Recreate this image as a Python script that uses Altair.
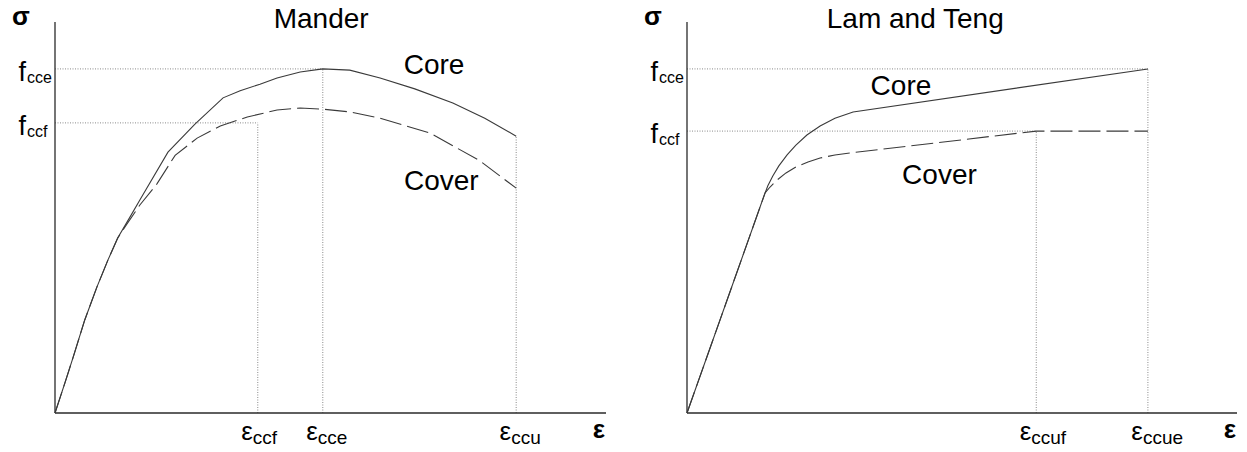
import altair as alt
import pandas as pd

FONT = "Liberation Sans"

# ---------------- Mander model (left panel) ----------------
mander_core_eps = [0, 1.8, 3.3, 5.4, 7.6, 9.6, 11.4, 13.6, 15.4, 20.5, 25.4, 30.5,
                   33.6, 37.2, 40.3, 44.5, 48.6, 53.5, 59.0, 65.3, 72.2, 78.0, 83.7]
mander_core_sig = [0, 7.7, 14.3, 23.8, 32.2, 39.1, 44.8, 50.1, 54.5, 66.7, 73.9, 80.6,
                   82.4, 84.1, 85.7, 87.2, 88.0, 87.7, 85.7, 82.9, 79.3, 75.4, 70.8]

mander_cover_eps = [0, 1.8, 3.3, 5.4, 7.6, 9.6, 11.4, 12.7, 15.4, 18.5, 21.8, 25.8,
                    30.0, 34.9, 40.3, 44.5, 48.6, 53.5, 59.0, 68.1, 77.1, 83.7]
mander_cover_sig = [0, 7.7, 14.3, 23.8, 32.2, 39.1, 44.8, 47.6, 53.2, 58.6, 65.9, 70.3,
                    73.4, 75.7, 77.5, 78.0, 77.7, 77.0, 75.4, 71.6, 64.5, 57.5]

mander_fcce = 88.0
mander_fccf = 74.2
mander_eccf = 36.8
mander_ecce = 48.6
mander_eccu = 83.7

# ---------------- Lam and Teng model (right panel) ----------------
lt_core_eps = [0, 14.2, 14.7, 15.6, 16.7, 18.2, 19.8, 21.8, 24.2, 26.9, 30.2, 83.8]
lt_core_sig = [0, 56.3, 58.1, 60.6, 63.2, 66.0, 68.5, 71.1, 73.4, 75.4, 77.0, 88.0]

lt_cover_eps = [0, 14.2, 15.1, 16.4, 18.0, 19.8, 22.0, 24.2, 26.9, 29.6, 63.5, 83.8]
lt_cover_sig = [0, 56.3, 57.8, 59.6, 61.4, 62.9, 64.2, 65.2, 66.0, 66.5, 72.1, 72.1]

lt_fcce = 88.0
lt_fccf = 72.1
lt_eccuf = 63.5
lt_eccue = 83.8

# ---------------- layout (pixels) ----------------
H = 452
BASE = 413          # y pixel of the strain axis
Y_UNIT = 3.91       # pixels per stress unit
LEFT_W, RIGHT_W = 630, 617
LEFT_ORIGIN, LEFT_UNIT = 55, 5.51
RIGHT_ORIGIN, RIGHT_UNIT = 57, 5.50   # origin measured inside the right panel

y_domain = [-(H - BASE) / Y_UNIT, BASE / Y_UNIT]

CURVE = "#3a3a3a"
GUIDE = "#8a8a8a"
AXIS = "#2a2a2a"


def point(x, y):
    return pd.DataFrame({"x": [x], "y": [y]})


def panel(width, origin, unit, title, title_x, core, cover, fvals, evals,
          core_lbl, cover_lbl):
    x_scale = alt.Scale(domain=[-origin / unit, (width - origin) / unit], nice=False, zero=False)
    y_scale = alt.Scale(domain=y_domain, nice=False, zero=False)

    def X(f):
        return alt.X(f, type="quantitative", scale=x_scale, axis=None)

    def Y(f):
        return alt.Y(f, type="quantitative", scale=y_scale, axis=None)

    core_df = pd.DataFrame({"x": core[0], "y": core[1], "i": list(range(len(core[0])))})
    cover_df = pd.DataFrame({"x": cover[0], "y": cover[1], "i": list(range(len(cover[0])))})

    # dotted guide lines from the labelled stresses and strains
    guides = []
    for (fv, xend, _) in fvals:
        guides.append({"x": 0.0, "x2": xend, "y": fv, "y2": fv})
    for (ev, ytop, _) in evals:
        guides.append({"x": ev, "x2": ev, "y": 0.0, "y2": ytop})
    guide_df = pd.DataFrame(guides)

    axes_df = pd.DataFrame([
        {"x": 0.0, "x2": 100.0, "y": 0.0, "y2": 0.0},
        {"x": 0.0, "x2": 0.0, "y": 0.0, "y2": 100.0},
    ])

    f_df = pd.DataFrame({"x": [0.0] * len(fvals), "y": [f for f, _, _ in fvals],
                         "sub": [s for _, _, s in fvals]})
    e_df = pd.DataFrame({"x": [e for e, _, _ in evals], "y": [0.0] * len(evals),
                         "sub": [s for _, _, s in evals]})

    def word(df, text, **kw):
        return alt.Chart(df).mark_text(text=text, font=FONT, color="black", **kw).encode(
            x=X("x"), y=Y("y"))

    layers = [
        alt.Chart(guide_df).mark_rule(color=GUIDE, strokeWidth=1, strokeDash=[1, 1.5]).encode(
            x=X("x"), x2="x2", y=Y("y"), y2="y2"),
        alt.Chart(axes_df).mark_rule(color=AXIS, strokeWidth=1.3).encode(
            x=X("x"), x2="x2", y=Y("y"), y2="y2"),
        alt.Chart(core_df).mark_line(color=CURVE, strokeWidth=1.1).encode(
            x=X("x"), y=Y("y"), order="i:Q"),
        alt.Chart(cover_df).mark_line(color=CURVE, strokeWidth=1.1, strokeDash=[22, 6]).encode(
            x=X("x"), y=Y("y"), order="i:Q"),
        word(point(title_x, 100.0), title, fontSize=28, align="center",
             baseline="alphabetic", dy=6),
        word(point(*core_lbl), "Core", fontSize=28, align="center", baseline="middle"),
        word(point(*cover_lbl), "Cover", fontSize=28, align="center", baseline="middle"),
        word(point(0.0, 100.0), "σ", fontSize=26, fontWeight="bold", align="left",
             baseline="alphabetic", dx=-43, dy=3),
        word(point(100.0, 0.0), "ε", fontSize=26, fontWeight="bold", align="right",
             baseline="alphabetic", dx=-1, dy=25),
        word(f_df, "f", fontSize=27, align="right", baseline="alphabetic", dx=-29, dy=12),
        alt.Chart(f_df).mark_text(font=FONT, color="black", fontSize=16, align="left",
                                  baseline="alphabetic", dx=-28, dy=14).encode(
            x=X("x"), y=Y("y"), text="sub:N"),
        word(e_df, "ε", fontSize=26, align="right", baseline="alphabetic", dx=-5, dy=27),
        alt.Chart(e_df).mark_text(font=FONT, color="black", fontSize=19, align="left",
                                  baseline="alphabetic", dx=-5, dy=31).encode(
            x=X("x"), y=Y("y"), text="sub:N"),
    ]
    return alt.layer(*layers).properties(width=width, height=H)


left = panel(
    LEFT_W, LEFT_ORIGIN, LEFT_UNIT, "Mander", 48.3,
    (mander_core_eps, mander_core_sig), (mander_cover_eps, mander_cover_sig),
    [(mander_fcce, mander_ecce, "cce"), (mander_fccf, mander_eccf, "ccf")],
    [(mander_eccf, mander_fccf, "ccf"), (mander_ecce, mander_fcce, "cce"),
     (mander_eccu, mander_core_sig[-1], "ccu")],
    (68.8, 88.7), (70.1, 59.1),
)

right = panel(
    RIGHT_W, RIGHT_ORIGIN, RIGHT_UNIT, "Lam and Teng", 41.5,
    (lt_core_eps, lt_core_sig), (lt_cover_eps, lt_cover_sig),
    [(lt_fcce, lt_eccue, "cce"), (lt_fccf, lt_eccuf, "ccf")],
    [(lt_eccuf, lt_fccf, "ccuf"), (lt_eccue, lt_fcce, "ccue")],
    (38.9, 83.4), (45.9, 60.6),
)

chart = alt.hconcat(left, right, spacing=0).properties(
    padding=0, background="white"
).configure_view(stroke=None)

chart.save("out.html", embed_options={"renderer": "svg", "actions": False})
